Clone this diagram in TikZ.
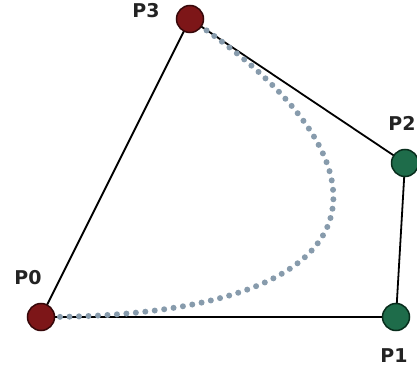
\documentclass[tikz,border=0pt]{standalone}
\usepackage{fontspec}
\setmainfont{DejaVu Sans}
\usetikzlibrary{positioning,backgrounds}

\definecolor{ptred}{RGB}{125,22,24}
\definecolor{ptredline}{RGB}{55,8,10}
\definecolor{ptgreen}{RGB}{30,108,74}
\definecolor{ptgreenline}{RGB}{8,45,28}
\definecolor{curvedot}{RGB}{135,155,172}
\definecolor{lbltext}{RGB}{35,35,35}

\tikzset{
  endpt/.style={circle, minimum size=27pt, inner sep=0pt, fill=ptred, draw=ptredline, line width=1.5pt},
  ctrlpt/.style={circle, minimum size=27pt, inner sep=0pt, fill=ptgreen, draw=ptgreenline, line width=1.5pt},
  lbl/.style={text=lbltext, font=\fontsize{19}{19}\selectfont\bfseries, inner sep=0pt},
  hull/.style={draw=black, line width=1.8pt},
  bezdots/.style={draw=curvedot, line width=6pt, line cap=round, dash pattern=on 0pt off 9.5pt}
}

\begin{document}
\begin{tikzpicture}[x=1pt, y=-1pt, >=stealth]
  \useasboundingbox (0,0) rectangle (417,371);

  \node[endpt]  (p0) at (41,317) {};
  \node[ctrlpt] (p1) at (396,317) {};
  \node[ctrlpt] (p2) at (405,163) {};
  \node[endpt]  (p3) at (190,19) {};

  \begin{pgfonlayer}{background}
    \draw[hull] (p0.center) -- (p1.center) -- (p2.center) -- (p3.center) -- cycle;
    \draw[bezdots] (p0.center) .. controls (p1.center) and (p2.center) .. (p3.center);
  \end{pgfonlayer}

  % labels
  \node[lbl] (l0) at (28,278) {P0};
  \node[lbl] (l1) at (394,356) {P1};
  \node[lbl] (l2) at (402,123) {P2};
  \node[lbl] (l3) at (146,11) {P3};
\end{tikzpicture}
\end{document}
